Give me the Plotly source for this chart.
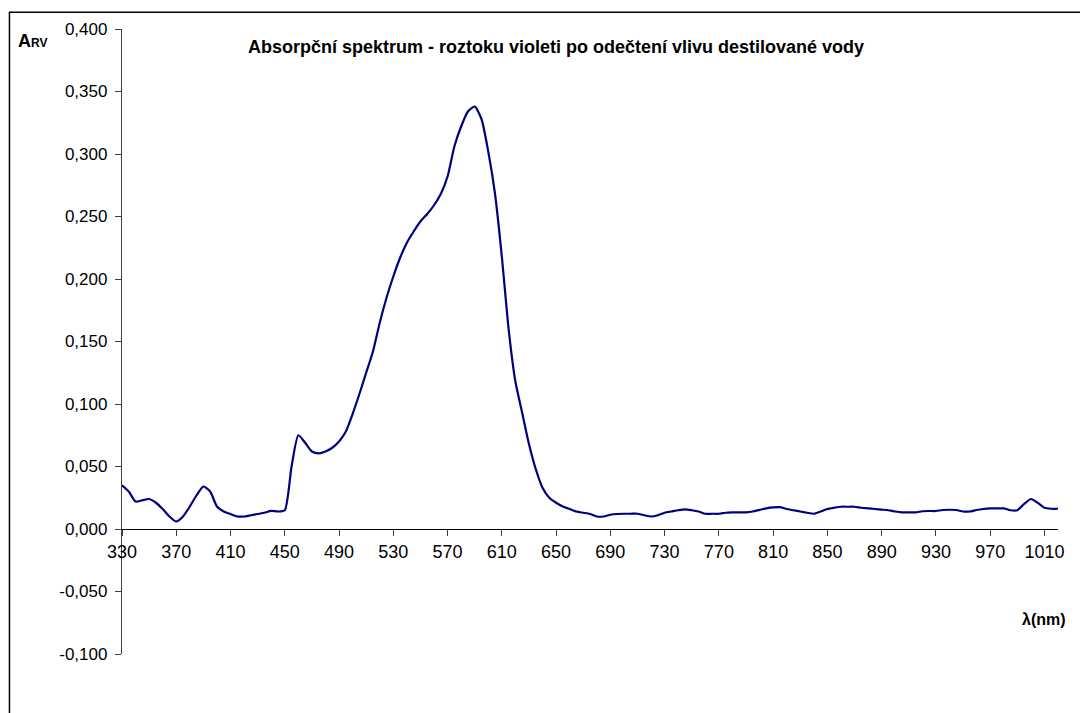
import plotly.graph_objects as go

wavelength = list(range(330, 1025, 5))
absorbance = [
    0.035, 0.030, 0.022, 0.023, 0.024, 0.021, 0.016, 0.010, 0.006, 0.010,
    0.018, 0.027, 0.034, 0.030, 0.018, 0.014, 0.012, 0.010, 0.010, 0.011,
    0.012, 0.013, 0.0145, 0.014, 0.015, 0.050, 0.075, 0.069, 0.062, 0.0605,
    0.062, 0.065, 0.070, 0.078, 0.092, 0.108, 0.125, 0.142, 0.165, 0.185,
    0.202, 0.217, 0.229, 0.238, 0.246, 0.252, 0.259, 0.268, 0.282, 0.306,
    0.322, 0.334, 0.338, 0.328, 0.302, 0.268, 0.218, 0.160, 0.118, 0.093,
    0.068, 0.048, 0.033, 0.025, 0.021, 0.018, 0.016, 0.014, 0.013, 0.012,
    0.010, 0.010, 0.0114, 0.012, 0.0122, 0.0122, 0.0122, 0.011, 0.010, 0.011,
    0.013, 0.014, 0.015, 0.0157, 0.015, 0.014, 0.0122, 0.0122, 0.0122, 0.013,
    0.0133, 0.0133, 0.0133, 0.014, 0.0153, 0.0165, 0.0173, 0.0175, 0.016, 0.015,
    0.014, 0.013, 0.0122, 0.014, 0.016, 0.017, 0.0178, 0.0178, 0.0178, 0.017,
    0.0165, 0.016, 0.0155, 0.015, 0.014, 0.0133, 0.0133, 0.0133, 0.0142, 0.0144,
    0.0144, 0.0152, 0.0154, 0.0152, 0.014, 0.014, 0.0152, 0.016, 0.0165, 0.0165,
    0.0165, 0.015, 0.015, 0.020, 0.024, 0.021, 0.017, 0.0162, 0.0162,
]

x_ticks = list(range(330, 1011, 40))
y_ticks = [-0.1, -0.05, 0.0, 0.05, 0.1, 0.15, 0.2, 0.25, 0.3, 0.35, 0.4]
y_ticktext = ["-0,100", "-0,050", "0,000", "0,050", "0,100", "0,150",
              "0,200", "0,250", "0,300", "0,350", "0,400"]

title_text = "Absorpční spektrum - roztoku violeti po odečtení vlivu destilované vody"
FONT = "Liberation Sans, Arial, sans-serif"

fig = go.Figure()
fig.add_trace(go.Scatter(
    x=wavelength, y=absorbance, mode="lines",
    line=dict(color="#000080", width=2.2, shape="spline", smoothing=0.6),
    hoverinfo="skip", showlegend=False,
))

L, R, T, B = 122, 22.3, 29.3, 58.7
W, H = 1080, 713
pw = W - L - R
ph = H - T - B

def px(xp):
    return (xp - L) / pw

def py(yp):
    return (H - B - yp) / ph

fig.update_layout(
    width=W, height=H,
    margin=dict(l=L, r=R, t=T, b=B, pad=0),
    paper_bgcolor="white", plot_bgcolor="white",
    font=dict(family=FONT, color="#000000", size=17),
    xaxis=dict(
        range=[330, 1020], tickvals=x_ticks, ticktext=[str(v) for v in x_ticks],
        showgrid=False, zeroline=False, showline=True, linecolor="#000000", linewidth=1.3,
        ticks="outside", ticklen=6, tickcolor="#404040", tickwidth=1,
        anchor="free", position=0.2, tickfont=dict(size=18),
    ),
    yaxis=dict(
        range=[-0.1, 0.4], tickvals=y_ticks, ticktext=y_ticktext,
        showgrid=False, zeroline=False, showline=True, linecolor="#404040", linewidth=1.3,
        ticks="outside", ticklen=6, tickcolor="#404040", tickwidth=1,
        tickfont=dict(size=17), ticklabelstandoff=4,
    ),
    shapes=[dict(
        type="rect", xref="paper", yref="paper",
        x0=px(9.5), x1=px(1200), y0=py(800), y1=py(12.5),
        line=dict(color="#000000", width=1.5), layer="above",
    )],
    annotations=[
        dict(text="<b>" + title_text + "</b>", xref="paper", yref="paper",
             x=px(556), y=py(47), xanchor="center", yanchor="middle",
             showarrow=False, font=dict(size=18, family=FONT)),
        dict(text="<b>A</b><span style='font-size:12px'><b>RV</b></span>",
             xref="paper", yref="paper", x=px(16), y=py(41), xanchor="left",
             yanchor="middle", showarrow=False, font=dict(size=18, family=FONT)),
        dict(text="<b>λ(nm)</b>", xref="paper", yref="paper",
             x=px(1068), y=py(620), xanchor="right", yanchor="middle",
             showarrow=False, font=dict(size=16, family=FONT)),
    ],
)

fig.write_html("out.html")
